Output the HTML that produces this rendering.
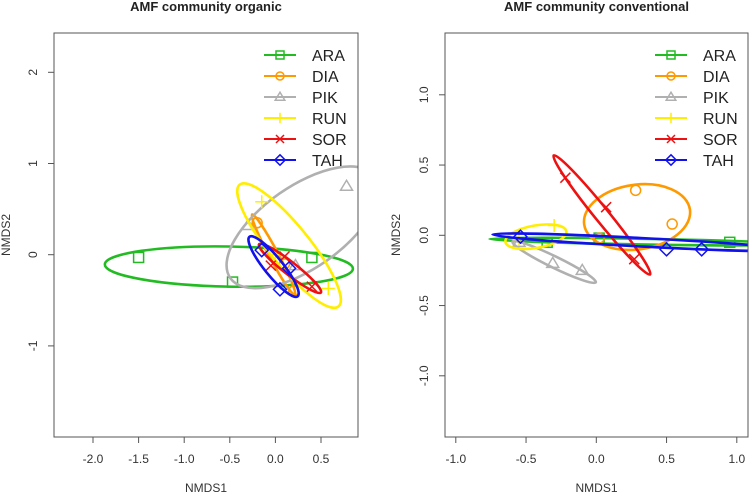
<!DOCTYPE html>
<html><head><meta charset="utf-8"><style>
body{margin:0;background:#fff;}
svg{font-family:"Liberation Sans",sans-serif;}
</style></head><body>
<svg id="c" width="750" height="493" xmlns="http://www.w3.org/2000/svg"></svg>
<script>
const groups=["ARA","DIA","PIK","RUN","SOR","TAH"];
const colors=["#22bb22","#ff9900","#b0b0b0","#ffee00","#ee1111","#1111ee"];
// organic: ellipses [cx,cy,a,b,angleDeg]
const orgEll=[[-0.51,-0.13,1.36,0.22,-1],[-0.02,0,0.5,0.05,-62],[0.3,0.3,0.97,0.45,35],[0.15,0.1,0.86,0.22,-51],[0.16,-0.15,0.43,0.07,-38],[-0.02,-0.13,0.42,0.1,-51]];
const orgPts=[[[-1.5,-0.03],[-0.47,-0.3],[0.4,-0.03]],[[-0.2,0.35],[0.1,-0.1],[0.2,-0.4]],[[-0.3,0.32],[0.22,-0.12],[0.78,0.75]],[[-0.15,0.58],[0.58,-0.37],[0,0]],[[0.1,-0.02],[-0.05,-0.12],[0.4,-0.35]],[[0.05,-0.38],[-0.15,0.05],[0.15,-0.15]]];
const conEll=[[0.32,-0.045,1.08,0.02,-1],[0.29,0.13,0.38,0.23,8],[-0.3,-0.19,0.33,0.04,-26],[-0.43,-0.01,0.22,0.08,10],[0.04,0.145,0.545,0.05,-51],[0.33,-0.05,1.07,0.03,-3]];
const conPts=[[[0.02,-0.02],[0.95,-0.05],[-0.35,-0.05]],[[0.28,0.32],[0.54,0.08],[0.02,-0.02]],[[-0.31,-0.2],[-0.1,-0.25],[-0.55,-0.05]],[[-0.3,0.07],[-0.55,-0.03]],[[-0.22,0.41],[0.07,0.2],[0.27,-0.17]],[[-0.54,-0.01],[0.5,-0.1],[0.75,-0.1]]];
const orgXT=["-2.0","-1.5","-1.0","-0.5","0.0","0.5"], orgYT=["-1","0","1","2"];
const conXT=["-1.0","-0.5","0.0","0.5","1.0"], conYT=["-1.0","-0.5","0.0","0.5","1.0"];
const NS="http://www.w3.org/2000/svg";
const svg=document.getElementById('c');
function mk(t,a,p){const e=document.createElementNS(NS,t);for(const k in a)e.setAttribute(k,a[k]);(p||svg).appendChild(e);return e;}
function marker(g,i,x,y,s){
 const c=colors[i],st={fill:"none",stroke:c,"stroke-width":1.5};
 if(i==0)mk("rect",Object.assign({x:x-s,y:y-s,width:2*s,height:2*s},st),g);
 else if(i==1)mk("circle",Object.assign({cx:x,cy:y,r:s},st),g);
 else if(i==2)mk("path",Object.assign({d:`M${x-s*1.2},${y+s*0.8}L${x},${y-s*1.2}L${x+s*1.2},${y+s*0.8}Z`},st),g);
 else if(i==3)mk("path",Object.assign({d:`M${x-s*1.3},${y}H${x+s*1.3}M${x},${y-s*1.3}V${y+s*1.3}`},st),g);
 else if(i==4)mk("path",Object.assign({d:`M${x-s},${y-s}L${x+s},${y+s}M${x-s},${y+s}L${x+s},${y-s}`},st),g);
 else mk("path",Object.assign({d:`M${x},${y-s*1.3}L${x+s*1.3},${y}L${x},${y+s*1.3}L${x-s*1.3},${y}Z`},st),g);
}
function panel(id,title,L,R,T,B,x0,y0,sc,xt,yt,ell,pts,legX,ytx,ylx){
 const X=v=>x0+v*sc, Y=v=>y0-v*sc;
 const g=mk("g",{});
 
 
 const cp=mk("clipPath",{id:id+"-clip"},g);mk("rect",{x:L,y:T,width:R-L,height:B-T},cp);
 const t=mk("text",{x:(L+R)/2,y:11,"text-anchor":"middle","font-size":13,"font-weight":"bold",fill:"#222"},g);t.textContent=title;
 
 const data=mk("g",{"clip-path":`url(#${id}-clip)`},g);
 ell.forEach((e,i)=>{
  const el=mk("ellipse",{cx:X(e[0]),cy:Y(e[1]),rx:e[2]*sc,ry:e[3]*sc,transform:`rotate(${-e[4]} ${X(e[0])} ${Y(e[1])})`,fill:"none",stroke:colors[i],"stroke-width":2.6},data);
  
  
  pts[i].forEach(p=>marker(data,i,X(p[0]),Y(p[1]),5));
 });
 const box=mk("rect",{x:L,y:T,width:R-L,height:B-T,fill:"none",stroke:"#555","stroke-width":1},g);
 
 xt.forEach(s=>{const v=parseFloat(s),x=X(v);mk("line",{x1:x,x2:x,y1:B,y2:B+6,stroke:"#555"},g);
  const tx=mk("text",{x:x,y:463,"text-anchor":"middle","font-size":12,fill:"#333"},g);tx.textContent=s;
  });
 yt.forEach(s=>{const v=parseFloat(s),y=Y(v);mk("line",{x1:L,x2:L-6,y1:y,y2:y,stroke:"#555"},g);
  const tx=mk("text",{x:ytx,y:y,"text-anchor":"middle","font-size":12,fill:"#333",transform:`rotate(-90 ${ytx} ${y})`},g);tx.textContent=s;
  });
 const xl=mk("text",{x:(L+R)/2,y:492,"text-anchor":"middle","font-size":12,fill:"#333"},g);xl.textContent="NMDS1";
 
 const yy=(T+B)/2;
 const yl=mk("text",{x:ylx,y:yy,"text-anchor":"middle","font-size":12,fill:"#333",transform:`rotate(-90 ${ylx} ${yy})`},g);yl.textContent="NMDS2";
 
 groups.forEach((n,i)=>{const y=55+i*21;
  const le=mk("g",{},g);
  
  
  mk("line",{x1:legX,x2:legX+32,y1:y,y2:y,stroke:colors[i],"stroke-width":2},le);
  marker(le,i,legX+16,y,4);
  const tx=mk("text",{x:legX+48,y:y+6,"font-size":16,fill:"#222"},le);tx.textContent=n;});
}
panel("organic-panel","AMF community organic",54,358,33,437,275.4,254.7,91.2,orgXT,orgYT,orgEll,orgPts,264,37,10);
panel("conventional-panel","AMF community conventional",445,748,33,437,596.3,235.3,140.5,conXT,conYT,conEll,conPts,655,428,400);
</script>
</body></html>
